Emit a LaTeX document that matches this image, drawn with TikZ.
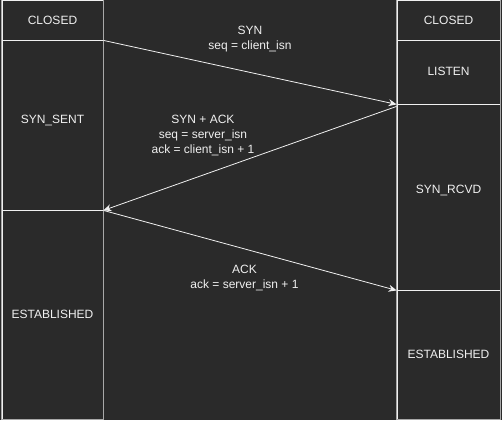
\documentclass[tikz,border=0pt]{standalone}
\usepackage{fontspec}
\setmainfont{Liberation Sans}
\usetikzlibrary{arrows.meta}
\definecolor{bg}{HTML}{2A2A2A}
\definecolor{rim}{HTML}{A8A8A8}
\definecolor{ink}{HTML}{F0F0F0}
\begin{document}
\begin{tikzpicture}[x=1pt, y=-1pt,
  state/.style={draw=ink, line width=0.8pt, fill=bg, text=ink, minimum width=101pt, inner sep=0pt, font=\fontsize{12}{15}\selectfont},
  msg/.style={text=ink, align=center, inner sep=0pt, font=\fontsize{12}{15}\selectfont},
  sig/.style={draw=ink, line width=0.8pt, -{Stealth[length=8pt, width=7pt]}}]
\useasboundingbox (0,0) rectangle (502,420);
\fill[bg] (0,0) rectangle (502,420);

\node (L1) at (52.5, 20) [state, minimum height=40pt] {CLOSED};
\node (L2) at (52.5, 125) [state, minimum height=170pt] {\raisebox{12pt}{SYN\_SENT}};
\node (L3) at (52.5, 314.5) [state, minimum height=209pt] {\raisebox{-3pt}{ESTABLISHED}};
\node (R1) at (448.5, 20) [state, minimum width=103pt, minimum height=40pt] {CLOSED};
\node (R2) at (448.5, 72) [state, minimum width=103pt, minimum height=64pt] {\raisebox{2pt}{LISTEN}};
\node (R3) at (448.5, 197) [state, minimum width=103pt, minimum height=186pt] {\raisebox{16pt}{SYN\_RCVD}};
\node (R4) at (448.5, 354.5) [state, minimum width=103pt, minimum height=129pt] {\raisebox{-5pt}{ESTABLISHED}};

\draw[rim, line width=1.6pt] (L1.north west) rectangle (L3.south east);
\draw[rim, line width=1.6pt] (R1.north west) rectangle (R4.south east);

\node (M1) at (250, 39) [msg] {SYN\\seq = client\_isn};
\node (M2) at (203, 136) [msg] {SYN + ACK\\seq = server\_isn\\ack = client\_isn + 1};
\node (M3) at (244.5, 277.5) [msg] {ACK\\ack = server\_isn + 1};

\draw[sig] (L1.south east) to (R2.south west);
\draw[sig] ([yshift=-2pt]R2.south west) to (L2.south east);
\draw[sig] (L2.south east) to (R3.south west);
\end{tikzpicture}
\end{document}
